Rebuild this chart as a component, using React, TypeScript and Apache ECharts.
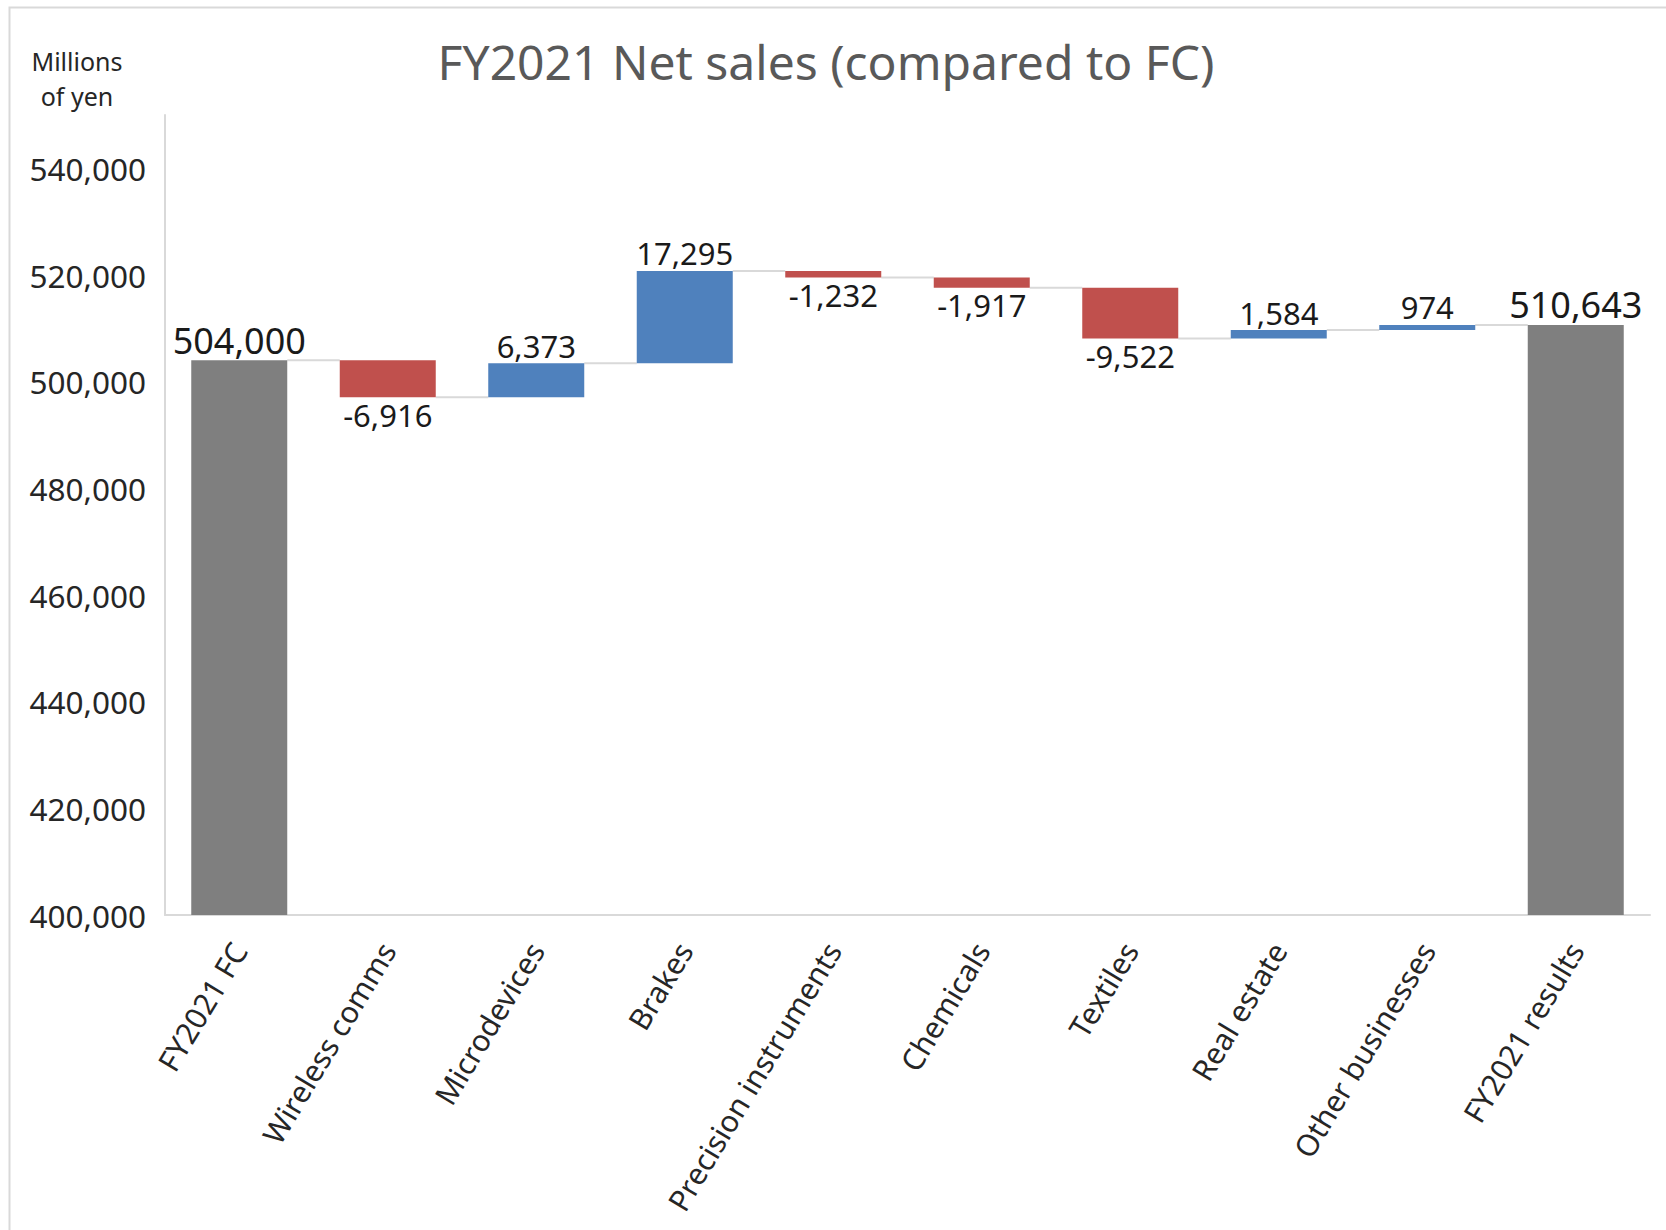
import React, { useEffect, useRef } from 'react';
import * as echarts from 'echarts';

const categories = [
  'FY2021 FC',
  'Wireless comms',
  'Microdevices',
  'Brakes',
  'Precision instruments',
  'Chemicals',
  'Textiles',
  'Real estate',
  'Other businesses',
  'FY2021 results',
];
const startValue = 504000;
const deltas = [-6916, 6373, 17295, -1232, -1917, -9522, 1584, 974];
const endValue = 510643;
const yMin = 400000;
const yMax = 550000;
const yInterval = 20000;

const GRAY = '#7F7F7F';
const RED = '#C0504D';
const BLUE = '#4F81BD';
const FONT = 'Noto Sans';

const fmt = (n: number) => n.toLocaleString('en-US');

export default function App() {
  const ref = useRef<HTMLDivElement>(null);
  useEffect(() => {
    if (!ref.current) return;
    const chart = echarts.init(ref.current, null, { renderer: 'svg' });

    const bases: number[] = [0];
    const heights: any[] = [
      {
        value: startValue,
        itemStyle: { color: GRAY },
        label: { position: 'top', fontSize: 36, formatter: fmt(startValue), distance: 2 },
      },
    ];
    const levels: number[] = [startValue];
    let lvl = startValue;
    deltas.forEach((d) => {
      if (d >= 0) {
        bases.push(lvl);
        heights.push({
          value: d,
          itemStyle: { color: BLUE },
          label: { position: 'top', formatter: fmt(d) },
        });
      } else {
        bases.push(lvl + d);
        heights.push({
          value: -d,
          itemStyle: { color: RED },
          label: { position: 'bottom', formatter: fmt(d) },
        });
      }
      lvl += d;
      levels.push(lvl);
    });
    bases.push(0);
    heights.push({
      value: endValue,
      itemStyle: { color: GRAY },
      label: { position: 'top', fontSize: 36, formatter: fmt(endValue), distance: 2 },
    });

    const connectors = levels.map((v, i) => [i, v]);
    const halfBar = 48;

    chart.setOption({
      animation: false,
      graphic: [
        {
          type: 'rect',
          shape: { x: 9.5, y: 7.5, width: 1700, height: 1300 },
          style: { fill: 'none', stroke: '#D9D9D9', lineWidth: 2 },
          silent: true,
        },
        {
          type: 'text',
          x: 826,
          y: 61,
          style: {
            text: 'FY2021 Net sales (compared to FC)',
            font: `48px "${FONT}"`,
            fill: '#595959',
            align: 'center',
            verticalAlign: 'middle',
          },
        },
        {
          type: 'text',
          x: 77,
          y: 61,
          style: {
            text: 'Millions',
            font: `25px "${FONT}"`,
            fill: '#262626',
            align: 'center',
            verticalAlign: 'middle',
          },
        },
        {
          type: 'text',
          x: 77,
          y: 96,
          style: {
            text: 'of yen',
            font: `25px "${FONT}"`,
            fill: '#262626',
            align: 'center',
            verticalAlign: 'middle',
          },
        },
      ],
      grid: { left: 165, right: 16, top: 115, bottom: 315, containLabel: false },
      xAxis: {
        type: 'category',
        data: categories,
        axisLine: { show: true, lineStyle: { color: '#D9D9D9', width: 2 } },
        axisTick: { show: false },
        axisLabel: {
          rotate: 59,
          margin: 30,
          interval: 0,
          fontFamily: FONT,
          fontSize: 30,
          color: '#262626',
        },
      },
      yAxis: {
        type: 'value',
        min: yMin,
        max: yMax,
        interval: yInterval,
        splitLine: { show: false },
        axisLine: { show: true, lineStyle: { color: '#D9D9D9', width: 2 } },
        axisTick: { show: false },
        axisLabel: {
          showMaxLabel: false,
          margin: 19,
          fontFamily: FONT,
          fontSize: 31.5,
          color: '#262626',
          formatter: (v: number) => fmt(v),
        },
      },
      series: [
        {
          type: 'bar',
          stack: 'wf',
          data: bases,
          barWidth: 96,
          itemStyle: { color: 'transparent' },
          silent: true,
          label: { show: false },
        },
        {
          type: 'bar',
          stack: 'wf',
          data: heights,
          barWidth: 96,
          label: {
            show: true,
            fontFamily: FONT,
            fontSize: 31,
            color: '#1a1a1a',
            distance: 2,
          },
        },
        {
          type: 'custom',
          silent: true,
          data: connectors,
          renderItem: (params: any, api: any) => {
            const i = api.value(0);
            const v = api.value(1);
            if (i >= categories.length - 1) return null;
            const p1 = api.coord([i, v]);
            const p2 = api.coord([i + 1, v]);
            return {
              type: 'line',
              shape: { x1: p1[0] + halfBar, y1: p1[1], x2: p2[0] - halfBar, y2: p2[1] },
              style: { stroke: '#D9D9D9', lineWidth: 2 },
            };
          },
          z: 1,
        },
      ],
    });
    return () => chart.dispose();
  }, []);
  return (
    <div
      ref={ref}
      style={{ position: 'fixed', left: 0, top: 0, width: 1666, height: 1230, background: '#fff' }}
    />
  );
}
